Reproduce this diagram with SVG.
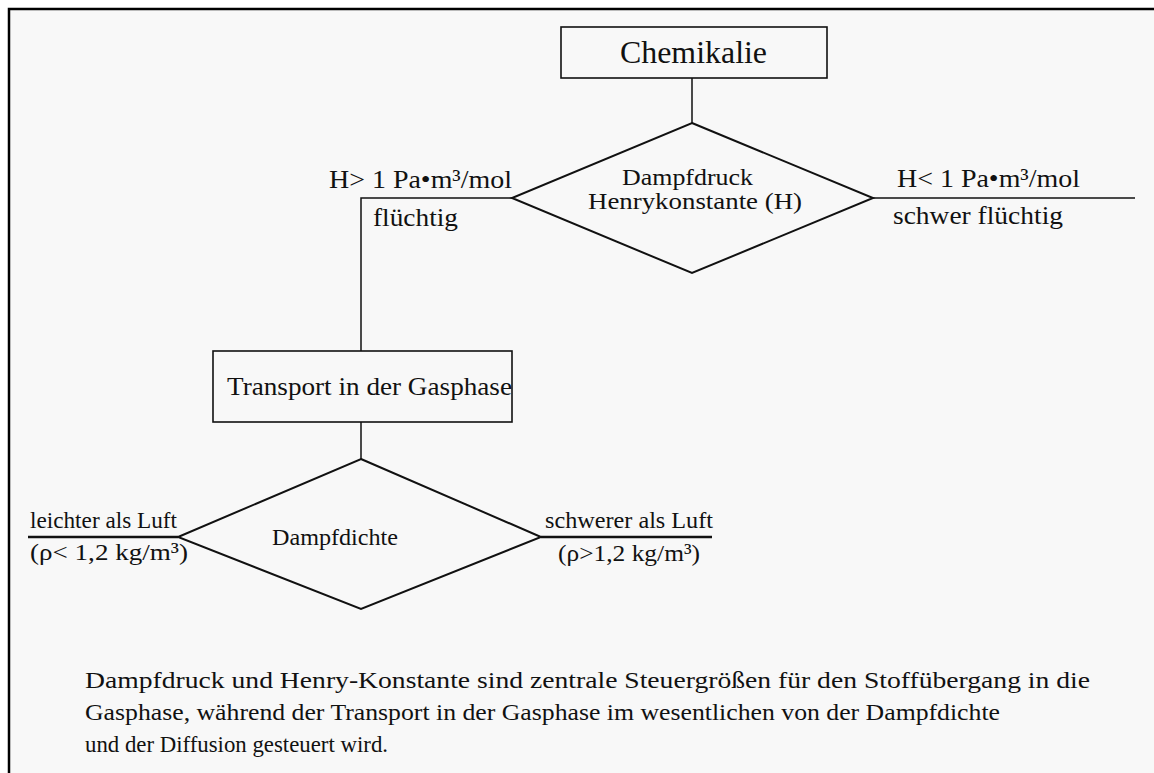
<svg xmlns="http://www.w3.org/2000/svg" width="1154" height="773" viewBox="0 0 1154 773">
<defs>
<style>
text{font-family:"Liberation Serif","Times New Roman",serif;fill:#111;}
.lbl{font-size:26px;}
.dd{font-size:23px;}
.low{font-size:24px;}
.par{font-size:24px;}
.box{fill:none;stroke:#111;stroke-width:1.6;}
.dia{fill:none;stroke:#111;stroke-width:2;}
.ln{fill:none;stroke:#111;stroke-width:1.5;}
.thick{fill:none;stroke:#111;stroke-width:2.5;}
</style>
</defs>
<rect x="0" y="0" width="1154" height="773" fill="#ffffff"/>
<rect x="9" y="9" width="1145" height="764" fill="#f8f8f8"/>
<path d="M9 773 V9 H1154" fill="none" stroke="#000" stroke-width="2.5"/>

<g id="connectors">
<line class="ln" x1="692" y1="78" x2="692" y2="123"/>
<polyline class="ln" points="512,198 361,198 361,351" stroke-width="1.2"/>
<line class="ln" x1="873" y1="198" x2="1135" y2="198"/>
<line class="ln" x1="361" y1="422" x2="361" y2="459" stroke-width="1.2"/>
<line class="thick" x1="28" y1="537" x2="178" y2="537"/>
<line class="thick" x1="541" y1="537" x2="712" y2="537"/>
</g>

<g id="chemikalie">
<rect class="box" x="561" y="27" width="266" height="51"/>
<text x="620" y="63" font-size="31" textLength="147" lengthAdjust="spacingAndGlyphs">Chemikalie</text>
</g>

<g id="dampfdruck">
<polygon class="dia" points="692,123 873,198 692,273 512,198"/>
<text class="dd" x="622" y="185" textLength="131" lengthAdjust="spacingAndGlyphs">Dampfdruck</text>
<text class="dd" x="588" y="209" textLength="214" lengthAdjust="spacingAndGlyphs">Henrykonstante (H)</text>
</g>

<g id="label-fluechtig">
<text class="lbl" x="329" y="188" textLength="183" lengthAdjust="spacingAndGlyphs">H&gt; 1 Pa•m³/mol</text>
<text class="lbl" x="373" y="226" textLength="85" lengthAdjust="spacingAndGlyphs">flüchtig</text>
</g>

<g id="label-schwer">
<text class="lbl" x="897" y="187" textLength="183" lengthAdjust="spacingAndGlyphs">H&lt; 1 Pa•m³/mol</text>
<text class="lbl" x="893" y="224" textLength="170" lengthAdjust="spacingAndGlyphs">schwer flüchtig</text>
</g>

<g id="transport">
<rect class="box" x="213" y="351" width="299" height="71"/>
<text class="lbl" x="227" y="395" textLength="285" lengthAdjust="spacingAndGlyphs">Transport in der Gasphase</text>
</g>

<g id="dampfdichte">
<polygon class="dia" points="361,459 541,537 361,609 178,537"/>
<text class="low" x="272" y="545" textLength="126" lengthAdjust="spacingAndGlyphs">Dampfdichte</text>
</g>

<g id="label-leichter">
<text class="low" x="30" y="528" textLength="147" lengthAdjust="spacingAndGlyphs">leichter als Luft</text>
<text class="low" x="30" y="560" textLength="158" lengthAdjust="spacingAndGlyphs">(ρ&lt; 1,2 kg/m³)</text>
</g>

<g id="label-schwerer">
<text class="low" x="545" y="528" textLength="168" lengthAdjust="spacingAndGlyphs">schwerer als Luft</text>
<text class="low" x="558" y="561" textLength="142" lengthAdjust="spacingAndGlyphs">(ρ&gt;1,2 kg/m³)</text>
</g>

<g id="caption">
<text class="par" x="85" y="688" textLength="1005" lengthAdjust="spacingAndGlyphs">Dampfdruck und Henry-Konstante sind zentrale Steuergrößen für den Stoffübergang in die</text>
<text class="par" x="85" y="720" textLength="915" lengthAdjust="spacingAndGlyphs">Gasphase, während der Transport in der Gasphase im wesentlichen von der Dampfdichte</text>
<text class="par" x="85" y="752" textLength="303" lengthAdjust="spacingAndGlyphs">und der Diffusion gesteuert wird.</text>
</g>
</svg>
